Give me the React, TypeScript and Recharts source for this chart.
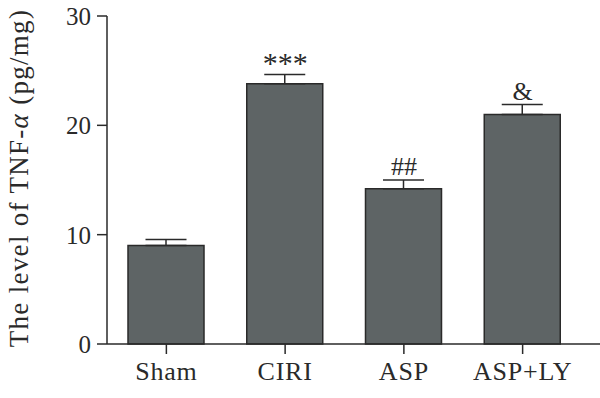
import React from 'react';
import { ComposedChart, Bar, Line, XAxis, YAxis, ErrorBar, LabelList, Label } from 'recharts';

const groups = ['Sham', 'CIRI', 'ASP', 'ASP+LY'];
const tnfLevels = [9.0, 23.8, 14.2, 21.0];
const tnfErrors = [0.55, 0.85, 0.8, 0.9];
const marks = ['', '***', '##', '&'];
const yTicks = [0, 10, 20, 30];

const data = groups.map((g, i) => ({
    group: g,
    level: tnfLevels[i],
    err: [0, tnfErrors[i]],
    capTop: tnfLevels[i] + tnfErrors[i],
    mark: marks[i],
}));

const FONT = '"Liberation Serif", "Times New Roman", serif';
const INK = '#2a2a2a';

const YLabel = () => {
    const cx = 19;
    const cy = 178;
    return (
        <text
            x={cx}
            y={cy}
            transform={`rotate(-90, ${cx}, ${cy})`}
            textAnchor="middle"
            dominantBaseline="central"
            fontFamily={FONT}
            fontSize={27}
            letterSpacing={1.3}
            fill={INK}
        >
            The level of TNF-<tspan fontStyle="italic">α</tspan> (pg/mg)
        </text>
    );
};

// significance marks sit a few px above the error cap; asterisks drop lower since their glyph rides high
const MarkLabel = (props: any) => {
    const { x, y, value } = props;
    if (!value) return null;
    const stars = value.includes('*');
    return (
        <text
            x={x}
            y={y - 5 + (stars ? 4 : 0)}
            textAnchor="middle"
            fontFamily={FONT}
            fontSize={stars ? 30 : 26}
            fill={INK}
        >
            {value}
        </text>
    );
};

const App: React.FC = () => {
    return (
        <div style={{ position: 'absolute', left: 0, top: 0, width: 600, height: 398, background: '#fff' }}>
            <ComposedChart width={600} height={398} data={data} margin={{ top: 16, right: 0, bottom: 0, left: 0 }}>
                <XAxis
                    dataKey="group"
                    height={54}
                    padding={{ left: 0, right: 18 }}
                    stroke={INK}
                    strokeWidth={1.5}
                    tickSize={10}
                    tickMargin={8}
                    tick={{ fill: INK, fontSize: 26, fontFamily: FONT, letterSpacing: 0.8 }}
                    interval={0}
                />
                <YAxis
                    width={107}
                    domain={[0, 30]}
                    ticks={yTicks}
                    stroke={INK}
                    strokeWidth={1.5}
                    tickSize={10}
                    tickMargin={6}
                    tick={{ fill: INK, fontSize: 25, fontFamily: FONT }}
                >
                    <Label content={<YLabel />} />
                </YAxis>
                <Bar dataKey="level" barSize={76} fill="#5e6465" stroke={INK} strokeWidth={1.5} isAnimationActive={false}>
                    <ErrorBar dataKey="err" width={20.5} stroke={INK} strokeWidth={1.5} direction="y" />
                </Bar>
                <Line dataKey="capTop" stroke="none" dot={false} activeDot={false} isAnimationActive={false}>
                    <LabelList dataKey="mark" content={<MarkLabel />} />
                </Line>
            </ComposedChart>
        </div>
    );
};

export default App;
